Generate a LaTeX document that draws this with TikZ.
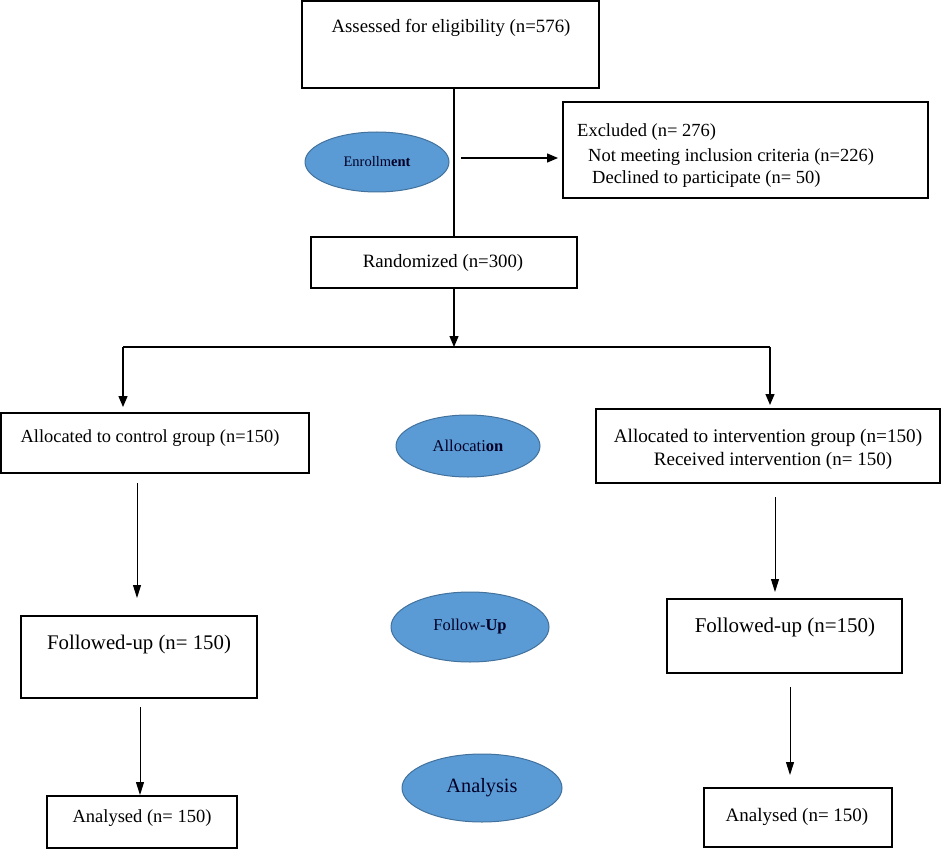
\documentclass[tikz,border=0pt]{standalone}
\usepackage{fontspec}
\setmainfont{Liberation Serif}
\usetikzlibrary{arrows.meta,shapes.geometric}
\definecolor{ellfill}{HTML}{5B9BD5}
\definecolor{elldraw}{HTML}{41719C}
\begin{document}
\begin{tikzpicture}[x=1pt,y=-1pt,
  box/.style={draw=black,line width=1.4pt,rectangle,inner sep=0pt},
  phase/.style={ellipse,draw=elldraw,line width=1pt,fill=ellfill,inner sep=0pt,text=black!85!blue},
  txt/.style={inner sep=0pt,anchor=center},
  conn/.style={line width=1.3pt},
  arr/.style={line width=1.3pt,-{Triangle[length=11pt,width=9pt]}},
  thinarr/.style={line width=0.9pt,-{Triangle[length=13pt,width=8pt]}},
  fs/.style={font=\fontsize{#1}{#1}\selectfont}
]
\useasboundingbox (0,0) rectangle (945,853);
% boxes
\node[box,minimum width=297pt,minimum height=87pt] (top) at (450.5,44.5) {};
\node[box,minimum width=365pt,minimum height=96pt] (excl) at (745.5,150) {};
\node[box,minimum width=266pt,minimum height=51pt] (rand) at (444,262.5) {};
\node[box,minimum width=308pt,minimum height=60pt] (ctrl) at (155,443) {};
\node[box,minimum width=344pt,minimum height=74pt] (intv) at (768,446) {};
\node[box,minimum width=236pt,minimum height=82pt] (fuL) at (139,657) {};
\node[box,minimum width=235pt,minimum height=74pt] (fuR) at (784.5,636) {};
\node[box,minimum width=190pt,minimum height=52pt] (anL) at (142,822) {};
\node[box,minimum width=188pt,minimum height=59pt] (anR) at (798,817.5) {};
% texts
\node[txt,fs=18.8] (ttop) at (451,28) {Assessed for eligibility (n=576)};
\node[txt,fs=18.5,anchor=west] (te1) at (577,132) {Excluded (n= 276)};
\node[txt,fs=18.5,anchor=west] (te2) at (588,157) {Not meeting inclusion criteria (n=226)};
\node[txt,fs=18.5,anchor=west] (te3) at (592,179) {Declined to participate (n= 50)};
\node[txt,fs=18.8] (trand) at (443,263) {Randomized (n=300)};
\node[txt,fs=18.4] (tctrl) at (150,438) {Allocated to control group (n=150)};
\node[txt,fs=19.2] (tint1) at (768,438) {Allocated to intervention group (n=150)};
\node[txt,fs=19] (tint2) at (773,461) {Received intervention (n= 150)};
\node[txt,fs=20.8] (tfuL) at (139,644) {Followed-up (n= 150)};
\node[txt,fs=21] (tfuR) at (785,627) {Followed-up (n=150)};
\node[txt,fs=18.5] (tanL) at (142,818) {Analysed (n= 150)};
\node[txt,fs=19] (tanR) at (797,817) {Analysed (n= 150)};
% phase ellipses
\node[phase,minimum width=144pt,minimum height=60pt,fs=14.5] (enr) at (377,162) {Enrollm\textbf{ent}};
\node[phase,minimum width=144pt,minimum height=62pt,fs=16.5] (alc) at (468,446) {Allocati\textbf{on}};
\node[phase,minimum width=158pt,minimum height=70pt,fs=16.5] (fol) at (470,627) {Follow-\textbf{Up}};
\node[phase,minimum width=160pt,minimum height=68pt,fs=20.3] (ana) at (482,788) {Analysis};
% coordinates
\coordinate (ex0) at (461,158);
\coordinate (ex1) at (558,158);
\coordinate (sp) at (454,347);
\coordinate (spL) at (123,347);
\coordinate (spR) at (770,347);
\coordinate (c0) at (137,483);
\coordinate (c1) at (137,598);
\coordinate (i0) at (775,497);
\coordinate (i1) at (775,592);
\coordinate (f0) at (140,707);
\coordinate (f1) at (140,795);
\coordinate (g0) at (790,687);
\coordinate (g1) at (790,775);
% connectors
\draw[conn] (top.south -| sp) -- (rand.north -| sp);
\draw[arr] (ex0) -- (ex1);
\draw[arr] (rand.south -| sp) -- (sp);
\draw[conn] (spL) -- (spR);
\draw[arr] (spL) -- (spL |- 0,407);
\draw[arr] (spR) -- (spR |- 0,405);
\draw[thinarr] (c0) -- (c1);
\draw[thinarr] (i0) -- (i1);
\draw[thinarr] (f0) -- (f1);
\draw[thinarr] (g0) -- (g1);
\end{tikzpicture}
\end{document}
